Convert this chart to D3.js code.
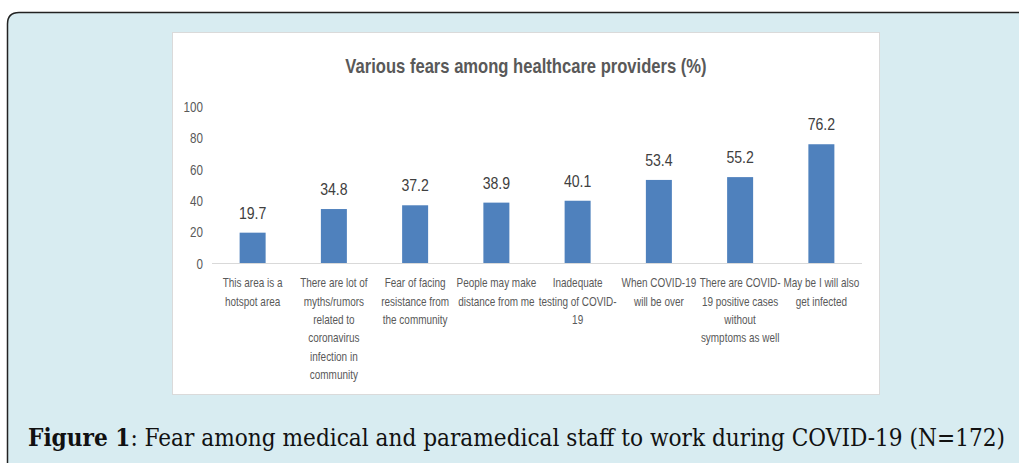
<!DOCTYPE html>
<meta charset="utf-8">
<script src="https://d3js.org/d3.v7.min.js"></script>
<style>
  body { margin: 0; background: #fff; }
  svg { display: block; }
</style>
<div id="chart"></div>
<script>
  // data
  const categories = [
    ["This area is a", "hotspot area"],
    ["There are lot of", "myths/rumors", "related to", "coronavirus", "infection in", "community"],
    ["Fear of facing", "resistance from", "the community"],
    ["People may make", "distance from me"],
    ["Inadequate", "testing of COVID-", "19"],
    ["When COVID-19", "will be over"],
    ["There are COVID-", "19 positive cases", "without", "symptoms as well"],
    ["May be I will also", "get infected"]
  ];
  const values = [19.7, 34.8, 37.2, 38.9, 40.1, 53.4, 55.2, 76.2];
  const yTicks = [0, 20, 40, 60, 80, 100];

  const W = 1019, H = 463;
  const font = "'Liberation Sans', Arial, sans-serif";
  const sx = 0.83; // the original chart text is horizontally squeezed

  const svg = d3.select("#chart").append("svg")
    .attr("width", W).attr("height", H);

  // outer light blue frame
  svg.append("path")
    .attr("d", "M7.5,480 L7.5,24 Q7.5,12.5 19,12.5 L1040,12.5 L1040,480 Z")
    .attr("fill", "#d8ecf1")
    .attr("stroke", "#222")
    .attr("stroke-width", 1.5);

  // white chart panel
  svg.append("rect")
    .attr("x", 172.5).attr("y", 32.5)
    .attr("width", 707).attr("height", 362)
    .attr("fill", "#fff")
    .attr("stroke", "#dadada");

  svg.append("text")
    .attr("transform", `translate(526,73) scale(${sx},1)`)
    .attr("text-anchor", "middle")
    .style("font-family", font)
    .style("font-weight", "bold")
    .style("font-size", "20px")
    .style("fill", "#595959")
    .text("Various fears among healthcare providers (%)");

  const x = d3.scaleBand()
    .domain(d3.range(values.length))
    .range([212, 862])
    .paddingInner(0.68)
    .paddingOuter(0.34);

  const y = d3.scaleLinear()
    .domain([0, 100])
    .range([263.5, 107]);

  // y tick labels (no axis line in the original)
  svg.selectAll("text.ytick")
    .data(yTicks)
    .join("text")
    .attr("class", "ytick")
    .attr("transform", d => `translate(203,${y(d) + 5}) scale(${sx},1)`)
    .attr("text-anchor", "end")
    .style("font-family", font)
    .style("font-size", "14px")
    .style("fill", "#595959")
    .text(d => d);

  // bars
  svg.selectAll("rect.bar")
    .data(values)
    .join("rect")
    .attr("class", "bar")
    .attr("x", (d, i) => x(i))
    .attr("y", d => y(d))
    .attr("width", x.bandwidth())
    .attr("height", d => y(0) - y(d))
    .attr("fill", "#4f81bd");

  // baseline
  svg.append("line")
    .attr("x1", 212).attr("x2", 862)
    .attr("y1", y(0)).attr("y2", y(0))
    .attr("stroke", "#d9d9d9")
    .attr("stroke-width", 1.2);

  // value labels
  svg.selectAll("text.val")
    .data(values)
    .join("text")
    .attr("class", "val")
    .attr("transform", (d, i) => `translate(${x(i) + x.bandwidth() / 2},${y(d) - 14}) scale(${sx},1)`)
    .attr("text-anchor", "middle")
    .style("font-family", font)
    .style("font-size", "17px")
    .style("fill", "#404040")
    .text(d => d);

  // category labels
  const cat = svg.selectAll("text.cat")
    .data(categories)
    .join("text")
    .attr("class", "cat")
    .attr("transform", (d, i) => `translate(${x(i) + x.bandwidth() / 2},0) scale(${sx},1)`)
    .attr("text-anchor", "middle")
    .style("font-family", font)
    .style("font-size", "12px")
    .style("fill", "#595959");
  cat.selectAll("tspan")
    .data(d => d)
    .join("tspan")
    .attr("x", 0)
    .attr("y", (d, j) => 287.5 + j * 18.3)
    .text(d => d);

  // caption
  const cap = svg.append("text")
    .attr("x", 28).attr("y", 446)
    .style("font-family", "'DejaVu Serif Condensed', 'DejaVu Serif', serif")
    .style("font-size", "24.1px")
    .style("fill", "#111");
  cap.append("tspan").style("font-weight", "bold").text("Figure 1");
  cap.append("tspan").text(": Fear among medical and paramedical staff to work during COVID-19 (N=172)");
</script>
